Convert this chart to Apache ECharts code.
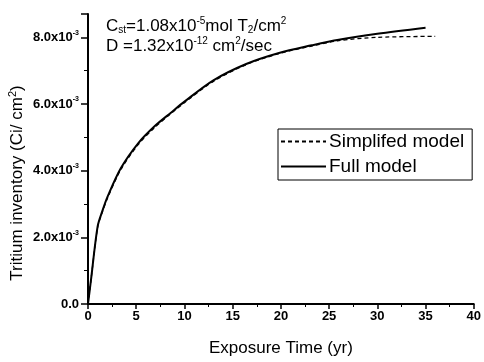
<!DOCTYPE html>
<html>
<head>
<meta charset="utf-8">
<script src="https://cdn.jsdelivr.net/npm/echarts@6/dist/echarts.min.js"></script>
<style>
  html, body { margin: 0; padding: 0; background: #fff; }
  #chart { width: 484px; height: 362px; }
</style>
</head>
<body>
<div id="chart"></div>
<script>
// values (inventory in Ci/cm2, time in yr)
const fullTime = [0, 0.3, 1, 1.5, 2, 3.4, 5.2, 6.9, 8.6, 10, 13, 16.4, 19.8, 23.2, 26, 30, 35];
const fullInv = [0, 0.0007, 0.00233, 0.0028, 0.0032, 0.00407, 0.00482, 0.00533, 0.00574, 0.00607, 0.00671, 0.0072, 0.00753, 0.00776, 0.00793, 0.00811, 0.00829];
const simpTime = [0, 0.3, 1, 1.5, 2, 3.4, 5.2, 6.9, 8.6, 10, 13, 16.4, 19.8, 23.2, 26, 30, 36];
const simpInv = [0, 0.0007, 0.0023, 0.00277, 0.00316, 0.00403, 0.00478, 0.00529, 0.00571, 0.00604, 0.00668, 0.00718, 0.00751, 0.00774, 0.0079, 0.008, 0.00803];
const yTicks = [0, 0.002, 0.004, 0.006, 0.008];
const xTicks = [0, 5, 10, 15, 20, 25, 30, 35, 40];

const chartDom = document.getElementById("chart");
const myChart = echarts.init(chartDom);
const font = "'Liberation Sans', Arial, sans-serif";

const pairs = (xs, ys) => xs.map((x, i) => [x, ys[i]]);

const option = {
  animation: false,
  textStyle: { fontFamily: font, color: "#000" },
  grid: { left: 88, right: 8, top: 14, bottom: 56 },
  legend: {
    orient: "vertical",
    left: 278,
    top: 129,
    padding: [3, 8, 4, 2],
    itemGap: 6,
    itemWidth: 45,
    itemHeight: 16,
    borderColor: "#000",
    borderWidth: 1,
    itemStyle: { opacity: 0 },
    textStyle: { fontFamily: font, fontSize: 19, color: "#000", padding: [0, 0, 0, -2] },
    data: ["Simplifed model", "Full model"],
  },
  xAxis: {
    type: "value",
    min: 0,
    max: 40,
    interval: 5,
    name: "Exposure Time (yr)",
    nameLocation: "middle",
    nameGap: 36,
    nameTextStyle: { fontFamily: font, fontSize: 17, color: "#000" },
    axisLine: { lineStyle: { color: "#000", width: 2 } },
    axisTick: { length: 5, lineStyle: { color: "#000", width: 1.5 } },
    minorTick: { show: true, splitNumber: 2, length: 3, lineStyle: { color: "#000" } },
    splitLine: { show: false },
    axisLabel: {
      fontFamily: font,
      fontWeight: "bold",
      fontSize: 13,
      color: "#000",
      margin: 6,
      formatter: (v) => (xTicks.includes(v) ? String(v) : ""),
    },
  },
  yAxis: {
    type: "value",
    min: 0,
    max: 0.0087,
    interval: 0.002,
    axisLine: { show: true, lineStyle: { color: "#000", width: 2 } },
    axisTick: { show: true, length: 7, lineStyle: { color: "#000", width: 1.5 } },
    minorTick: { show: true, splitNumber: 2, length: 4, lineStyle: { color: "#000" } },
    splitLine: { show: false },
    axisLabel: {
      margin: 9,
      formatter: function (v) {
        if (!yTicks.some((t) => Math.abs(t - v) < 1e-9)) return "";
        if (v === 0) return "{m|0.0}";
        return "{m|" + (v * 1000).toFixed(1) + "x10}{s|-3}";
      },
      rich: {
        m: { fontFamily: font, fontWeight: "bold", fontSize: 13, color: "#000" },
        s: { fontFamily: font, fontWeight: "bold", fontSize: 7, color: "#000", padding: [0, 0, 9, 0] },
      },
    },
  },
  graphic: [
    {
      type: "text",
      x: 17,
      y: 183,
      rotation: Math.PI / 2,
      style: {
        text: "{t|Tritium inventory (Ci/ cm}{s|2}{t|)}",
        align: "center",
        verticalAlign: "middle",
        rich: {
          t: { fontFamily: font, fontSize: 17, fill: "#000" },
          s: { fontFamily: font, fontSize: 11, fill: "#000", padding: [0, 0, 9, 0] },
        },
      },
    },
    {
      type: "text",
      left: 106,
      top: 16,
      style: {
        text:
          "{t|C}{b|st}{t|=1.08x10}{s|-5}{t|mol T}{b|2}{t|/cm}{s|2}\n" +
          "{t|D =1.32x10}{s|-12}{t| cm}{s|2}{t|/sec}",
        rich: {
          t: { fontFamily: font, fontSize: 17, fill: "#000", lineHeight: 20 },
          s: { fontFamily: font, fontSize: 10, fill: "#000", padding: [0, 0, 10, 0], lineHeight: 20 },
          b: { fontFamily: font, fontSize: 10, fill: "#000", padding: [8, 0, 0, 0], lineHeight: 20 },
        },
      },
    },
  ],
  series: [
    {
      name: "Simplifed model",
      type: "line",
      symbol: "none",
      smooth: 0.3,
      lineStyle: { color: "#000", width: 1.3, type: [4, 3] },
      itemStyle: { color: "#000" },
      data: pairs(simpTime, simpInv),
      z: 3,
    },
    {
      name: "Full model",
      type: "line",
      symbol: "none",
      smooth: 0.3,
      lineStyle: { color: "#000", width: 2 },
      itemStyle: { color: "#000" },
      data: pairs(fullTime, fullInv),
      z: 2,
    },
  ],
};

myChart.setOption(option);
</script>
</body>
</html>
